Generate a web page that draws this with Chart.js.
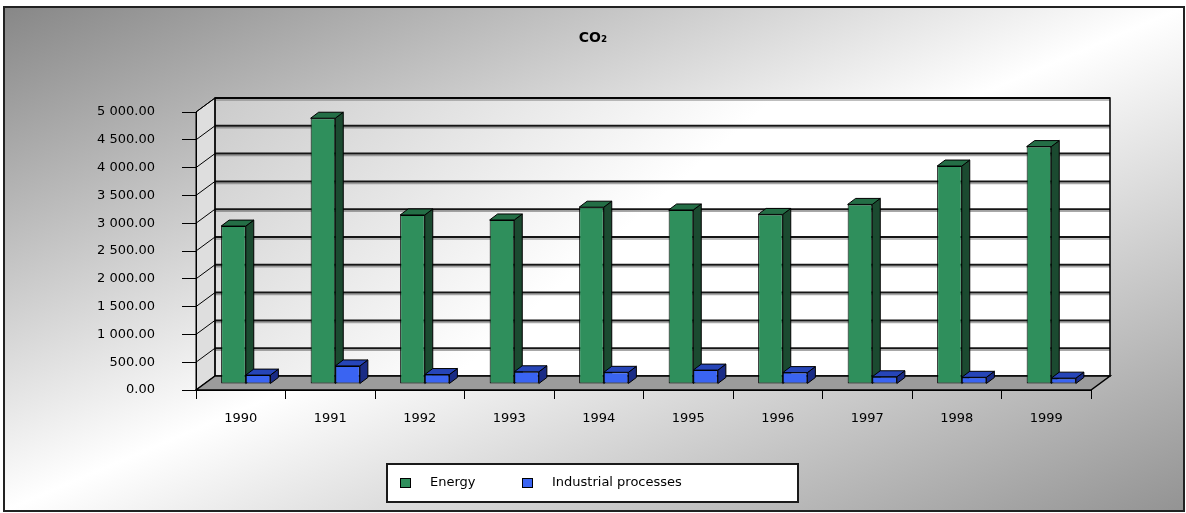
<!DOCTYPE html>
<html>
<head>
<meta charset="utf-8">
<title>CO₂</title>
<script src="https://cdn.jsdelivr.net/npm/chart.js@4.4.1/dist/chart.umd.min.js"></script>
<style>
  html, body { margin: 0; padding: 0; background: #fff; overflow: hidden; }
  canvas { display: block; }
</style>
</head>
<body>
<canvas id="co2" width="1186" height="513"></canvas>
<script>
// CO2 emissions by source, 1990-1999
const years = ['1990', '1991', '1992', '1993', '1994', '1995', '1996', '1997', '1998', '1999'];
const energy = [2840, 4780, 3040, 2950, 3180, 3130, 3050, 3230, 3920, 4270];
const industrial = [160, 325, 170, 220, 210, 250, 205, 130, 120, 105];
const yTickLabels = ['0.00', '500.00', '1 000.00', '1 500.00', '2 000.00', '2 500.00',
                     '3 000.00', '3 500.00', '4 000.00', '4 500.00', '5 000.00'];

// 3D look: walls recede up-right, columns stand part way back on the floor
const WALL_DEPTH = { x: 19, y: -14 };
const BAR_SHIFT = { x: 5, y: -6 };
const BAR_DEPTH = { x: 8, y: -6 };
const FRAME = { x0: 4, y0: 7, x1: 1184, y1: 511 };
const LEGEND_BOX = { x: 387, y: 464, w: 411, h: 38 };
const LEGEND_ITEM_X = [400, 522];

Chart.defaults.font.family = "'DejaVu Sans', sans-serif";
Chart.defaults.color = '#000';

function poly(ctx, pts, fill, stroke, lw) {
  ctx.beginPath();
  ctx.moveTo(pts[0][0], pts[0][1]);
  for (let i = 1; i < pts.length; i++) ctx.lineTo(pts[i][0], pts[i][1]);
  ctx.closePath();
  if (fill) { ctx.fillStyle = fill; ctx.fill(); }
  if (stroke) { ctx.lineWidth = lw || 1; ctx.strokeStyle = stroke; ctx.stroke(); }
}

const scene3d = {
  id: 'scene3d',
  beforeDraw(chart) {
    const { ctx, chartArea: a } = chart;
    const yScale = chart.scales.y;
    const dx = WALL_DEPTH.x, dy = WALL_DEPTH.y;
    ctx.save();

    // page background with diagonal shading inside the frame
    ctx.fillStyle = '#fff';
    ctx.fillRect(0, 0, chart.width, chart.height);
    const W = FRAME.x1 - FRAME.x0, H = FRAME.y1 - FRAME.y0;
    const cx = FRAME.x0 + W / 2, cy = FRAME.y0 + H / 2;
    const n = Math.hypot(W, H), ux = H / n, uy = W / n, t = W * H / n;
    const bg = ctx.createLinearGradient(cx - ux * t, cy - uy * t, cx + ux * t, cy + uy * t);
    bg.addColorStop(0, '#878787');
    bg.addColorStop(0.5, '#ffffff');
    bg.addColorStop(1, '#939393');
    ctx.fillStyle = bg;
    ctx.fillRect(FRAME.x0, FRAME.y0, W, H);
    ctx.lineWidth = 2;
    ctx.strokeStyle = '#222';
    ctx.strokeRect(FRAME.x0, FRAME.y0, W, H);

    // side wall
    poly(ctx, [[a.left, a.top], [a.left + dx, a.top + dy], [a.left + dx, a.bottom + dy], [a.left, a.bottom]], '#dedede');

    // back wall
    const bw = ctx.createLinearGradient(a.left + dx, a.top + dy, a.left + 260, a.bottom + dy);
    bw.addColorStop(0, '#cbcbcb');
    bw.addColorStop(1, '#ffffff');
    ctx.fillStyle = bw;
    ctx.fillRect(a.left + dx, a.top + dy, a.right - a.left, a.bottom - a.top);

    // gridlines on back and side walls
    yScale.ticks.forEach(tk => {
      if (tk.value === 0) return;
      const py = yScale.getPixelForValue(tk.value);
      ctx.beginPath();
      ctx.moveTo(a.left + dx, py + dy + 2);
      ctx.lineTo(a.right + dx, py + dy + 2);
      ctx.lineWidth = 1.5;
      ctx.strokeStyle = 'rgba(110,110,110,0.6)';
      ctx.stroke();
      ctx.beginPath();
      ctx.moveTo(a.left + dx, py + dy);
      ctx.lineTo(a.right + dx, py + dy);
      ctx.lineWidth = 2;
      ctx.strokeStyle = '#151515';
      ctx.stroke();
      ctx.beginPath();
      ctx.moveTo(a.left, py);
      ctx.lineTo(a.left + dx, py + dy);
      ctx.lineWidth = 1;
      ctx.strokeStyle = '#000';
      ctx.stroke();
    });

    // wall outlines
    ctx.lineWidth = 1.5;
    ctx.strokeStyle = '#000';
    ctx.strokeRect(a.left + dx, a.top + dy, a.right - a.left, a.bottom - a.top);
    poly(ctx, [[a.left, a.top], [a.left + dx, a.top + dy], [a.left + dx, a.bottom + dy], [a.left, a.bottom]], null, '#000', 1);

    // floor
    poly(ctx, [[a.left, a.bottom], [a.right, a.bottom], [a.right + dx, a.bottom + dy], [a.left + dx, a.bottom + dy]],
      '#9c9c9c', '#000', 1.5);

    ctx.restore();
  },
  beforeDatasetsDraw(chart) {
    const ctx = chart.ctx;
    ctx.save();
    ctx.translate(BAR_SHIFT.x, BAR_SHIFT.y);
    ctx.lineJoin = 'miter';
    chart.data.datasets.forEach((ds, i) => {
      const meta = chart.getDatasetMeta(i);
      if (meta.hidden) return;
      meta.data.forEach(bar => {
        const { x, y, base, width } = bar.getProps(['x', 'y', 'base', 'width'], true);
        const l = x - width / 2, r = x + width / 2;
        const bx = BAR_DEPTH.x, by = BAR_DEPTH.y;
        poly(ctx, [[r, y], [r + bx, y + by], [r + bx, base + by], [r, base]], ds.sideColor, '#000', 1);
        poly(ctx, [[l, y], [l + bx, y + by], [r + bx, y + by], [r, y]], ds.topColor, '#000', 1);
      });
    });
  },
  afterDatasetsDraw(chart) {
    chart.ctx.restore();
  },
  afterDraw(chart) {
    const ctx = chart.ctx;
    const b = LEGEND_BOX;
    ctx.save();
    ctx.fillStyle = '#fff';
    ctx.fillRect(b.x, b.y, b.w, b.h);
    ctx.lineWidth = 2;
    ctx.strokeStyle = '#1a1a1a';
    ctx.strokeRect(b.x, b.y, b.w, b.h);
    const cy = b.y + b.h / 2;
    ctx.font = "13px 'DejaVu Sans'";
    ctx.textBaseline = 'middle';
    chart.data.datasets.forEach((ds, i) => {
      const sx = LEGEND_ITEM_X[i];
      ctx.fillStyle = ds.backgroundColor;
      ctx.fillRect(sx, cy - 5, 11, 10);
      ctx.lineWidth = 1;
      ctx.strokeStyle = '#000';
      ctx.strokeRect(sx + 0.5, cy - 4.5, 10, 9);
      ctx.fillStyle = '#000';
      ctx.fillText(ds.label, sx + 30, cy);
    });
    ctx.restore();
  }
};

new Chart(document.getElementById('co2'), {
  type: 'bar',
  data: {
    labels: years,
    datasets: [
      {
        label: 'Energy',
        data: energy,
        backgroundColor: '#2f8f5c',
        sideColor: '#1b4a30',
        topColor: '#246e46',
        borderColor: '#000',
        borderWidth: 1,
        borderSkipped: false
      },
      {
        label: 'Industrial processes',
        data: industrial,
        backgroundColor: '#3a64f2',
        sideColor: '#1a2c86',
        topColor: '#2645b8',
        borderColor: '#000',
        borderWidth: 1,
        borderSkipped: false
      }
    ]
  },
  options: {
    responsive: false,
    devicePixelRatio: 1,
    animation: false,
    layout: { padding: 0 },
    datasets: {
      bar: { categoryPercentage: 0.55, barPercentage: 1.0 }
    },
    plugins: {
      legend: { display: false },
      tooltip: { enabled: false },
      title: {
        display: true,
        text: 'CO₂',
        color: '#000',
        font: { size: 14, weight: 'bold' },
        padding: { top: 30, bottom: 65.2 }
      }
    },
    scales: {
      x: {
        offset: true,
        grid: { offset: true, drawOnChartArea: false, drawTicks: true, tickLength: 9, color: '#000', lineWidth: 1 },
        border: { display: true, color: '#000', width: 1 },
        ticks: { color: '#000', font: { size: 13 }, padding: 12, maxRotation: 0, autoSkip: false },
        afterFit(scale) { scale.height = 123; }
      },
      y: {
        min: 0,
        max: 5000,
        grid: { drawOnChartArea: false, drawTicks: true, tickLength: 14, color: '#000', lineWidth: 1 },
        border: { display: true, color: '#000', width: 1 },
        ticks: {
          stepSize: 500,
          padding: 27,
          color: '#000',
          font: { size: 13 },
          callback: (value, index) => yTickLabels[index]
        },
        afterFit(scale) { scale.width = 196; }
      },
      yRight: {
        position: 'right',
        display: true,
        grid: { display: false },
        border: { display: false },
        ticks: { display: false },
        afterFit(scale) { scale.width = 95; }
      }
    }
  },
  plugins: [scene3d]
});
</script>
</body>
</html>
